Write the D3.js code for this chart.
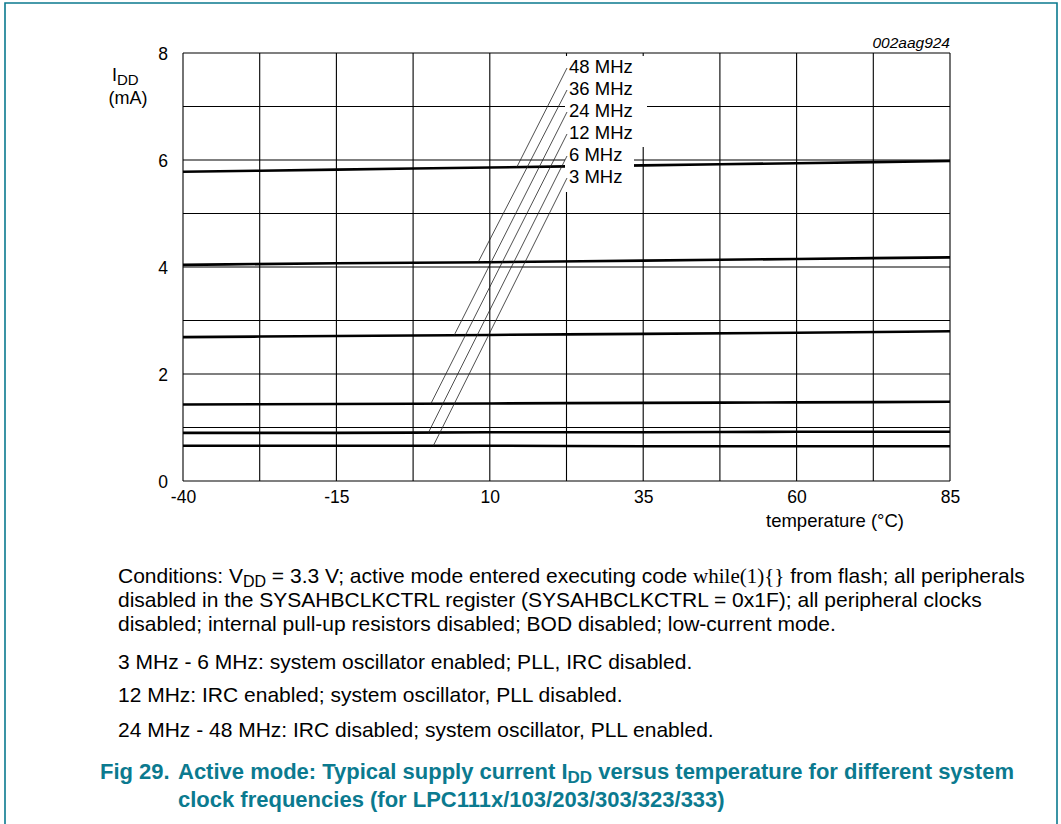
<!DOCTYPE html>
<html>
<head>
<meta charset="utf-8">
<script src="https://cdn.jsdelivr.net/npm/d3@7"></script>
<style>
  body { margin: 0; background: #fff; }
  svg text { font-family: "Liberation Sans", Arial, sans-serif; fill: #000; }
</style>
</head>
<body>
<svg id="chart"></svg>
<script>
// --- Data ---
const temps = [-40, -15, 10, 35, 60, 85];
const freqs = ["48 MHz", "36 MHz", "24 MHz", "12 MHz", "6 MHz", "3 MHz"];
const idd48 = [5.78, 5.82, 5.86, 5.90, 5.94, 5.98];
const idd36 = [4.04, 4.07, 4.09, 4.12, 4.15, 4.18];
const idd24 = [2.69, 2.71, 2.73, 2.75, 2.77, 2.80];
const idd12 = [1.43, 1.44, 1.45, 1.46, 1.47, 1.48];
const idd6  = [0.90, 0.90, 0.91, 0.91, 0.92, 0.92];
const idd3  = [0.66, 0.66, 0.66, 0.65, 0.65, 0.65];
const series = [idd48, idd36, idd24, idd12, idd6, idd3];
// where each label's leader line touches its curve (temperature, °C)
const leaderTemp = [14.4, 8.1, 4.2, 0.4, 0.0, 0.8];
const xTicks = [-40, -15, 10, 35, 60, 85];
const yTicks = [0, 2, 4, 6, 8];

const W = 1061, H = 824;
const teal = "#0b7a8f";
const svg = d3.select("#chart").attr("width", W).attr("height", H);

// --- Scales ---
const x = d3.scaleLinear().domain([-40, 85]).range([183, 950]);
const y = d3.scaleLinear().domain([0, 8]).range([481, 53]);

// page frame
svg.append("path")
  .attr("d", `M5,${H} V3 H1057 V${H}`)
  .attr("fill", "none").attr("stroke", teal).attr("stroke-width", 1.6);

// --- Grid ---
const grid = svg.append("g").attr("stroke", "#000").attr("stroke-width", 1.1);
grid.selectAll("line.v").data(d3.range(-40, 85.1, 12.5)).enter().append("line")
  .attr("x1", d => x(d)).attr("x2", d => x(d)).attr("y1", y(0)).attr("y2", y(8));
grid.selectAll("line.h").data(d3.range(0, 8.1, 1)).enter().append("line")
  .attr("y1", d => y(d)).attr("y2", d => y(d)).attr("x1", x(-40)).attr("x2", x(85));

// --- Axes (labels only, the grid forms the frame) ---
const xAxis = svg.append("g").attr("transform", `translate(0,${y(0)})`)
  .call(d3.axisBottom(x).tickValues(xTicks).tickSize(0).tickPadding(10).tickFormat(d => String(d)));
const yAxis = svg.append("g").attr("transform", `translate(${x(-40)},0)`)
  .call(d3.axisLeft(y).tickValues(yTicks).tickSize(0).tickPadding(15).tickFormat(d => String(d)));
[xAxis, yAxis].forEach(a => {
  a.select(".domain").remove();
  a.selectAll("text").attr("font-size", 17.5).attr("font-family", "Liberation Sans, Arial, sans-serif");
});
yAxis.selectAll("text").attr("dy", "0.36em");

svg.append("text").attr("x", 835).attr("y", 527).attr("text-anchor", "middle")
  .attr("font-size", 18.5).text("temperature (°C)");
const yl = svg.append("text").attr("x", 112).attr("y", 81).attr("font-size", 18);
yl.append("tspan").text("I");
yl.append("tspan").attr("dy", 4).attr("font-size", 15).text("DD");
svg.append("text").attr("x", 128).attr("y", 104).attr("text-anchor", "middle")
  .attr("font-size", 18).text("(mA)");
svg.append("text").attr("x", 950).attr("y", 48).attr("text-anchor", "end")
  .attr("font-size", 15.5).attr("font-style", "italic").text("002aag924");

// --- Curves ---
const line = d3.line().x((d, i) => x(temps[i])).y(d => y(d)).curve(d3.curveMonotoneX);
svg.append("g").selectAll("path").data(series).enter().append("path")
  .attr("d", d => line(d)).attr("fill", "none")
  .attr("stroke", "#000").attr("stroke-width", 2.6);

// --- Label block with leader lines ---
const labelX = 567, labelY0 = 73, labelStep = 22;
// white knock-outs behind the labels
svg.append("rect").attr("x", 565).attr("y", 56).attr("width", 82).attr("height", 91).attr("fill", "#fff");
svg.append("rect").attr("x", 565).attr("y", 147).attr("width", 69).attr("height", 45).attr("fill", "#fff");

const valueAt = (arr, t) => d3.scaleLinear().domain(temps).range(arr)(t);
const leaders = svg.append("g").attr("stroke", "#222").attr("stroke-width", 0.8);
freqs.forEach((f, i) => {
  const by = labelY0 + i * labelStep;
  leaders.append("line")
    .attr("x1", labelX).attr("y1", by - 5)
    .attr("x2", x(leaderTemp[i])).attr("y2", y(valueAt(series[i], leaderTemp[i])));
  svg.append("text").attr("x", labelX + 2).attr("y", by)
    .attr("font-size", 18.5).text(f);
});

// --- Caption ---
const cap = svg.append("g").attr("font-size", 21);
const c1 = cap.append("text").attr("x", 118).attr("y", 583);
c1.append("tspan").text("Conditions: V");
c1.append("tspan").attr("dy", 4).attr("font-size", 16).text("DD");
c1.append("tspan").attr("dy", -4).text(" = 3.3 V; active mode entered executing code ");
c1.append("tspan").attr("font-family", "Liberation Serif, Times New Roman, serif").attr("font-size", 21).text("while(1){}");
c1.append("tspan").text(" from flash; all peripherals");
cap.append("text").attr("x", 118).attr("y", 607)
  .text("disabled in the SYSAHBCLKCTRL register (SYSAHBCLKCTRL = 0x1F); all peripheral clocks");
cap.append("text").attr("x", 118).attr("y", 631)
  .text("disabled; internal pull-up resistors disabled; BOD disabled; low-current mode.");
cap.append("text").attr("x", 118).attr("y", 669)
  .text("3 MHz - 6 MHz: system oscillator enabled; PLL, IRC disabled.");
cap.append("text").attr("x", 118).attr("y", 702)
  .text("12 MHz: IRC enabled; system oscillator, PLL disabled.");
cap.append("text").attr("x", 118).attr("y", 737)
  .text("24 MHz - 48 MHz: IRC disabled; system oscillator, PLL enabled.");

// --- Figure title ---
const tg = svg.append("g").attr("font-size", 22).attr("font-weight", "bold");
tg.append("text").attr("x", 100).attr("y", 779).style("fill", teal).text("Fig 29.");
const t1 = tg.append("text").attr("x", 178).attr("y", 779).style("fill", teal);
t1.append("tspan").text("Active mode: Typical supply current I");
t1.append("tspan").attr("dy", 4).attr("font-size", 17).text("DD");
t1.append("tspan").attr("dy", -4).text(" versus temperature for different system");
tg.append("text").attr("x", 178).attr("y", 807).style("fill", teal)
  .text("clock frequencies (for LPC111x/103/203/303/323/333)");
</script>
</body>
</html>
